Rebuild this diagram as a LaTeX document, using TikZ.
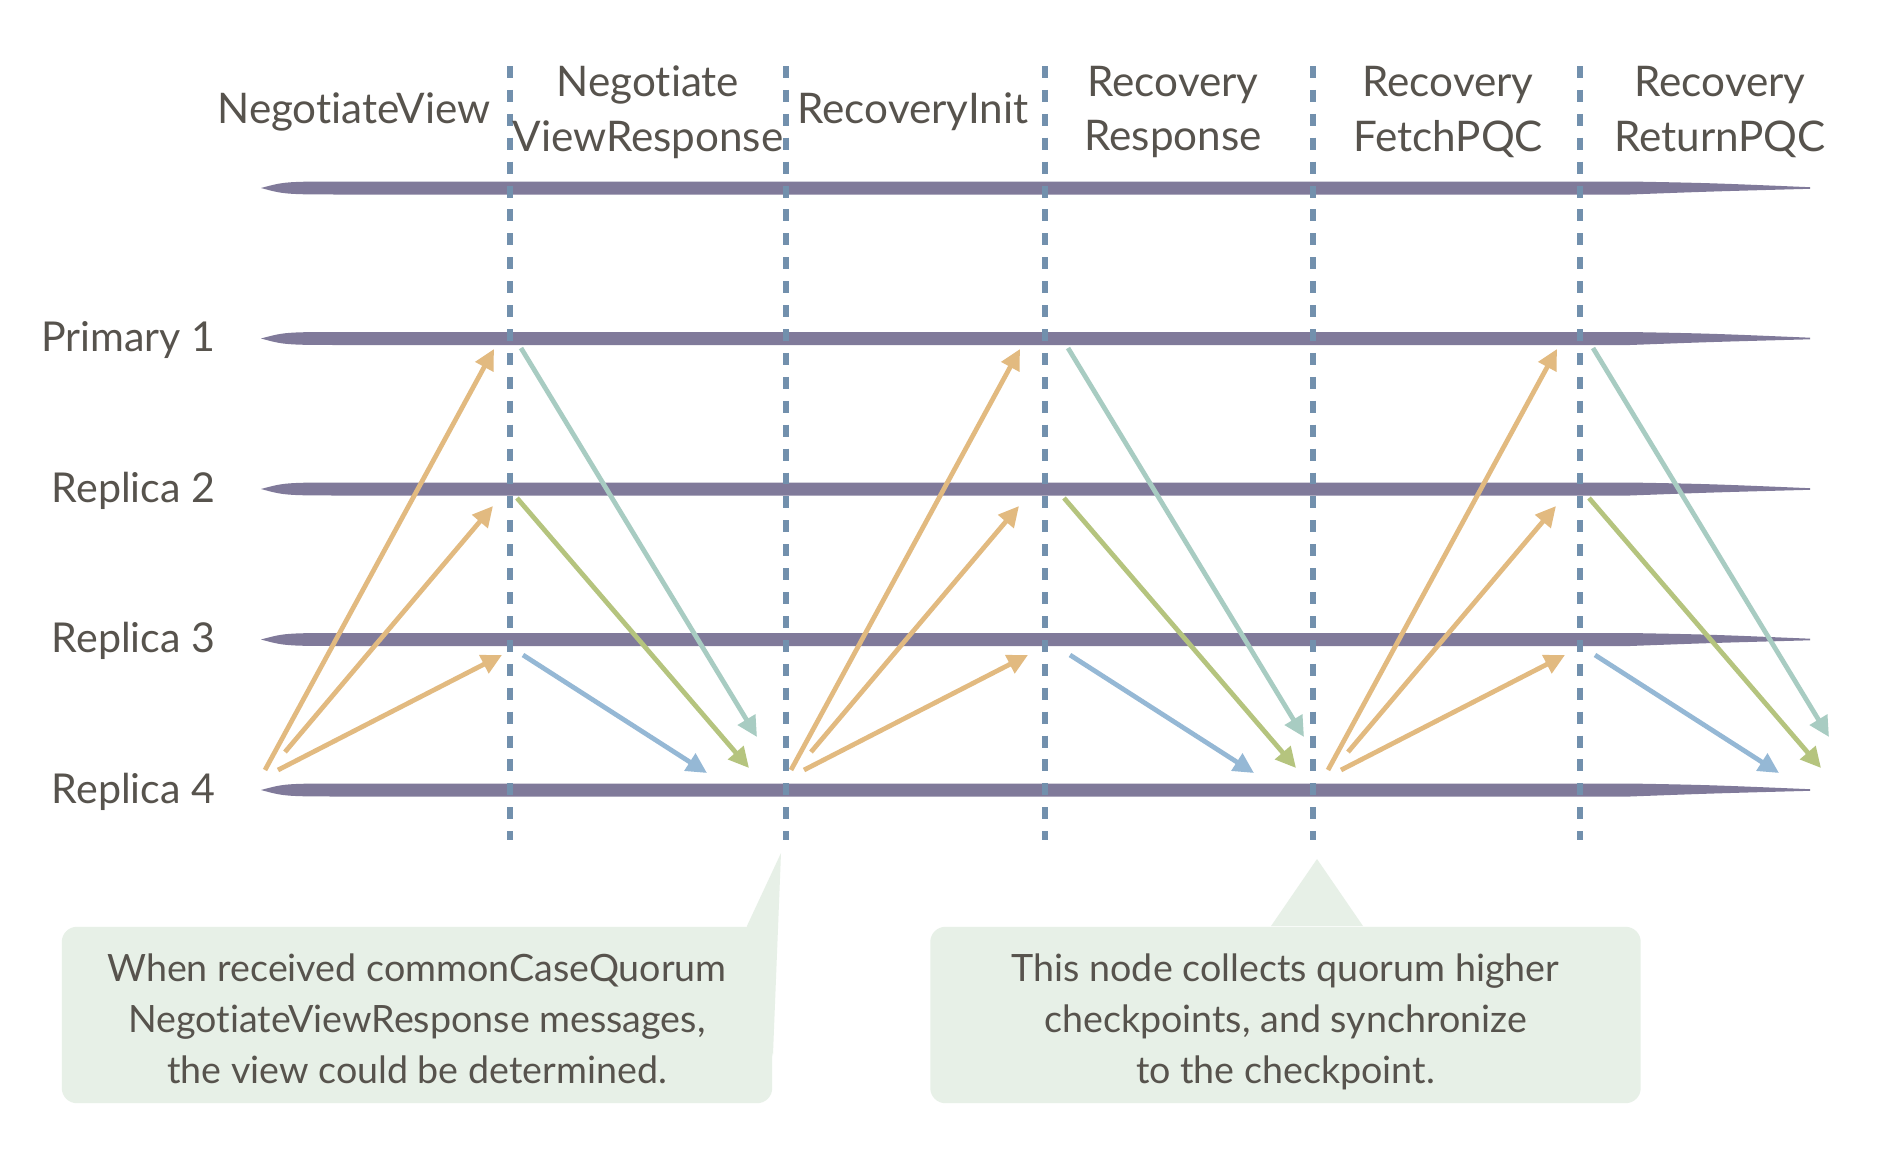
\documentclass[tikz,border=0pt]{standalone}
\usepackage{xcolor}
\usepackage{fontspec}
\setmainfont{Lato}[Ligatures=NoCommon]
\usepackage{tikz}
\usetikzlibrary{arrows.meta, positioning, calc}

\definecolor{lifecol}{HTML}{807A9A}
\definecolor{dashcol}{HTML}{7290AD}
\definecolor{reqcol}{HTML}{E2BA80}
\definecolor{tealcol}{HTML}{A8CCC2}
\definecolor{greencol}{HTML}{B5C47E}
\definecolor{bluecol}{HTML}{95B8D5}
\definecolor{notecol}{HTML}{E7F0E7}
\definecolor{textcol}{HTML}{57534D}

\tikzstyle{rowname} = [anchor=base east, inner sep=0pt, font=\fontsize{11.7}{13}\selectfont, text=textcol]
\tikzstyle{header} = [align=center, inner sep=0pt, font=\fontsize{12}{15.6}\selectfont, text=textcol]
\tikzstyle{divider} = [dashcol, line width=1.7pt, dash pattern=on 3.4pt off 3.4pt]
\tikzstyle{msg} = [line width=1.35pt, -{Triangle[length=5.8pt,width=5.6pt]}]
\tikzstyle{note} = [rectangle, rounded corners=4.3pt, fill=notecol, minimum width=7.1cm, minimum height=1.7cm, font=\fontsize{10.7}{14.5}\selectfont, text=textcol]

\newcommand{\lifeline}[1]{%
  \fill[lifecol] (261,#1) .. controls (285,#1-6.5) .. (350,#1-6.5) -- (1630,#1-6.5)
    .. controls (1710,#1-5) .. (1810,#1-0.8) -- (1810,#1+0.8)
    .. controls (1710,#1+3.5) .. (1630,#1+6.5) -- (350,#1+6.5)
    .. controls (285,#1+6.5) .. (261,#1) -- cycle;}
\newcommand{\notetext}[1]{\raisebox{-0.07cm}[\height][\depth]{\begin{tabular}{@{}c@{}}#1\end{tabular}}}

\begin{document}
\begin{tikzpicture}[x=0.01cm, y=-0.01cm]
    \fill[white] (0,0) rectangle (1878,1154);
    \useasboundingbox (0,0) rectangle (1878,1154);

    % Lifelines
    \foreach \y in {188, 338.5, 489, 639.5, 790} {\lifeline{\y}}
    \node[rowname] (p1) at (216,351) {Primary 1};
    \node[rowname] (r2) at (216,502) {Replica 2};
    \node[rowname] (r3) at (216,652) {Replica 3};
    \node[rowname] (r4) at (216,803) {Replica 4};

    % Phase dividers
    \foreach \x in {510, 786, 1045, 1313, 1580} \draw[divider] (\x,66) -- (\x,840);

    % Phase headers
    \node[header, anchor=base] (hnv) at (354,123) {NegotiateView};
    \node[header] (hnvr) at (648,112) {Negotiate\\ViewResponse};
    \node[header, anchor=base] (hri) at (913,123) {RecoveryInit};
    \node[header] (hrr) at (1173,112) {Recovery\\Response};
    \node[header] (hrf) at (1448,112) {Recovery\\FetchPQC};
    \node[header] (hrp) at (1720,112) {Recovery\\ReturnPQC};

    % Messages: requests from Replica 4, responses back to it
    \foreach \g/\d/\e in {a/0/0, b/526/547, c/1063/1072} {
        \coordinate (\g o1s) at ({265+\d},770);
        \coordinate (\g o1t) at ({494+\d},349);
        \coordinate (\g o2s) at ({285+\d},752);
        \coordinate (\g o2t) at ({493+\d},506);
        \coordinate (\g o3s) at ({278+\d},770);
        \coordinate (\g o3t) at ({502+\d},655);
        \coordinate (\g ts) at ({521+\e},348);
        \coordinate (\g tt) at ({757+\e},737);
        \coordinate (\g gs) at ({517+\e},498);
        \coordinate (\g gt) at ({749+\e},768);
        \coordinate (\g bs) at ({523+\e},655);
        \coordinate (\g bt) at ({707+\e},773);
        \draw[msg, reqcol] (\g o1s) -- (\g o1t);
        \draw[msg, reqcol] (\g o2s) -- (\g o2t);
        \draw[msg, reqcol] (\g o3s) -- (\g o3t);
        \draw[msg, tealcol] (\g ts) -- (\g tt);
        \draw[msg, greencol] (\g gs) -- (\g gt);
        \draw[msg, bluecol] (\g bs) -- (\g bt);
    }

    % Notes
    \node[note] (note1) at (417,1015) {\notetext{When received commonCaseQuorum\\NegotiateViewResponse messages,\\the view could be determined.}};
    \coordinate (tip1) at (781,853);
    \fill[notecol] ([xshift=-0.26cm]note1.north east) -- (tip1) -- ([yshift=-1.3cm]note1.north east) -- cycle;

    \node[note] (note2) at (1285.5,1015) {\notetext{This node collects quorum higher\\checkpoints, and synchronize\\to the checkpoint.}};
    \coordinate (tip2) at (1317,859);
    \fill[notecol] ([xshift=-0.145cm]note2.north) -- (tip2) -- ([xshift=0.775cm]note2.north) -- cycle;

\end{tikzpicture}
\end{document}
